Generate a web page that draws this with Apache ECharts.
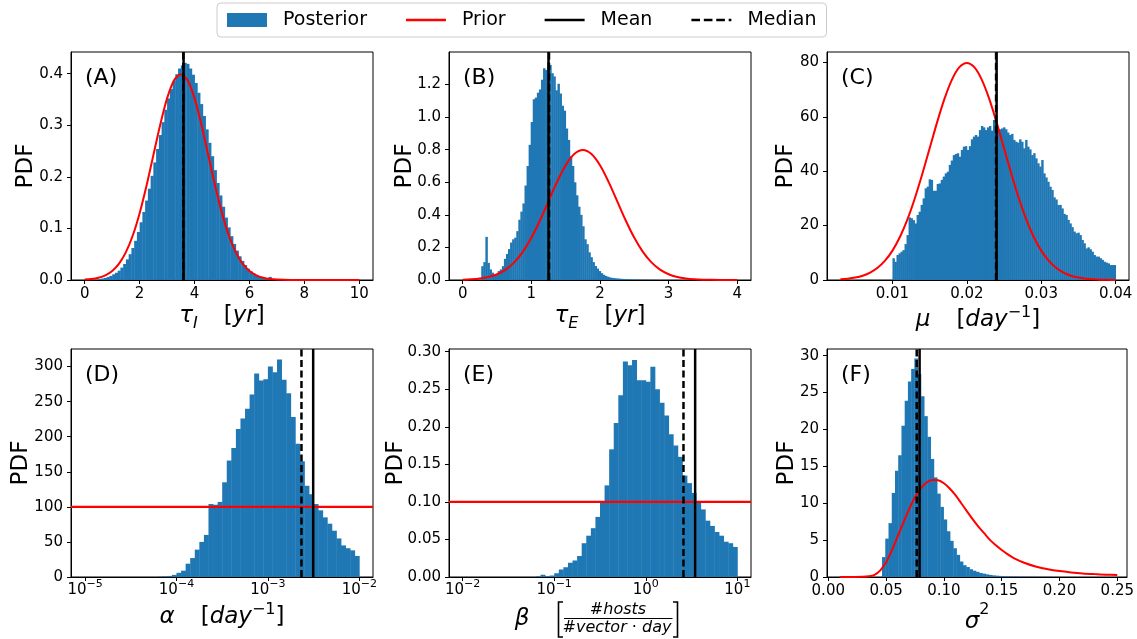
<!DOCTYPE html>
<html>
<head>
<meta charset="utf-8">
<script src="https://cdn.jsdelivr.net/npm/echarts@6/dist/echarts.min.js"></script>
<style>
  html, body { margin: 0; padding: 0; background: #fff; }
  #chart { width: 1137px; height: 639px; }
</style>
</head>
<body>
<div id="chart"></div>
<script>
// ---------------- data ----------------
// (A) tau_I : posterior histogram (bins of 0.1 starting at 0.5) and normal prior
const tauIBinStart = 0.5;
const tauIBinWidth = 0.1;
const tauIPosterior = [
  0.002, 0.003, 0.004, 0.006, 0.008, 0.011, 0.014, 0.018, 0.024, 0.031,
  0.040, 0.050, 0.062, 0.076, 0.093, 0.112, 0.132, 0.154, 0.177, 0.202,
  0.228, 0.254, 0.281, 0.306, 0.330, 0.352, 0.370, 0.386, 0.399, 0.410,
  0.416, 0.421, 0.419, 0.410, 0.398, 0.382, 0.363, 0.341, 0.318, 0.292,
  0.266, 0.240, 0.213, 0.188, 0.164, 0.142, 0.121, 0.102, 0.085, 0.070,
  0.057, 0.046, 0.037, 0.029, 0.022, 0.017, 0.013, 0.010, 0.007, 0.005,
  0.004, 0.003, 0.006, 0.002, 0.002, 0.001, 0.001, 0.001
];
const tauIPriorX = [0, 0.25, 0.5, 0.75, 1, 1.25, 1.5, 1.75, 2, 2.25, 2.5, 2.75, 3, 3.25, 3.5,
  3.75, 4, 4.25, 4.5, 4.75, 5, 5.25, 5.5, 5.75, 6, 6.25, 6.5, 6.75, 7, 7.5, 8, 9, 10];
const tauIPriorY = [0.0009, 0.0020, 0.0044, 0.0091, 0.0175, 0.0317, 0.0540, 0.0863, 0.1295, 0.1826,
  0.2420, 0.3011, 0.3521, 0.3867, 0.3989, 0.3867, 0.3521, 0.3011, 0.2420, 0.1826, 0.1295,
  0.0863, 0.0540, 0.0317, 0.0175, 0.0091, 0.0044, 0.0020, 0.0009, 0.0001, 0, 0, 0];
const tauIMean = 3.60, tauIMedian = 3.59;

// (B) tau_E
const tauEBinStart = 0.27;
const tauEBinWidth = 0.03;
const tauEPosterior = [
  0.085, 0.11, 0.265, 0.105, 0.065, 0.045, 0.03, 0.035, 0.055, 0.065,
  0.085, 0.13, 0.16, 0.19, 0.23, 0.25, 0.26, 0.30, 0.37, 0.42,
  0.47, 0.58, 0.70, 0.83, 0.97, 1.11, 1.12, 1.15, 1.17, 1.23,
  1.30, 1.29, 1.34, 1.32, 1.27, 1.25, 1.165, 1.205, 1.145, 1.07,
  1.04, 0.93, 0.86, 0.76, 0.70, 0.60, 0.52, 0.45, 0.40, 0.33,
  0.25, 0.22, 0.17, 0.14, 0.11, 0.086, 0.07, 0.055, 0.042, 0.032,
  0.025, 0.02, 0.016, 0.013, 0.012, 0.010, 0.009, 0.008, 0.007, 0.006,
  0.005, 0.004, 0.004, 0.003, 0.003, 0.003, 0.002, 0.002, 0.002, 0.002,
  0.002, 0.001, 0.001, 0.001, 0.001
];
const tauEPriorX = [0, 0.125, 0.25, 0.375, 0.5, 0.625, 0.75, 0.875, 1, 1.125, 1.25, 1.375, 1.5, 1.625,
  1.75, 1.875, 2, 2.125, 2.25, 2.375, 2.5, 2.625, 2.75, 2.875, 3, 3.125, 3.25, 3.375, 3.5, 3.75, 4];
const tauEPriorY = [0.0018, 0.0041, 0.0089, 0.0182, 0.0351, 0.0635, 0.1080, 0.1726, 0.2591, 0.3653,
  0.4839, 0.6023, 0.7041, 0.7733, 0.7979, 0.7733, 0.7041, 0.6023, 0.4839, 0.3653, 0.2591,
  0.1726, 0.1080, 0.0635, 0.0351, 0.0182, 0.0089, 0.0041, 0.0018, 0.0003, 0];
const tauEMean = 1.25, tauEMedian = 1.257;

// (C) mu : posterior restricted to [0.01, 0.04]
const muLo = 0.01, muHi = 0.04;
const muPosterior = [
  8.0, 6.7, 9.2, 9.8, 10.4, 11.0, 13.2, 16.5, 23.0, 22.7,
  22.0, 20.8, 23.9, 25.1, 27.6, 30.0, 33.7, 34.3, 37.0, 36.8,
  32.8, 32.8, 35.3, 35.5, 36.8, 38.0, 39.2, 39.8, 42.3, 43.9,
  45.9, 46.3, 46.6, 45.3, 47.8, 49.0, 49.2, 47.8, 49.2, 51.7,
  52.7, 53.3, 52.7, 55.1, 56.6, 56.1, 55.1, 56.1, 56.6, 54.9,
  58.8, 57.6, 54.9, 55.4, 55.7, 56.1, 55.4, 54.2, 53.3, 53.7,
  51.5, 50.8, 50.5, 51.7, 50.8, 48.4, 51.5, 49.0, 48.0, 45.9,
  46.6, 44.7, 42.9, 41.7, 44.1, 39.2, 37.7, 36.1, 34.3, 33.1,
  30.4, 29.6, 27.6, 27.6, 26.3, 24.3, 23.9, 22.1, 20.8, 19.4,
  17.8, 17.2, 17.4, 16.5, 14.7, 13.5, 11.6, 12.0, 11.3, 10.4,
  9.2, 8.6, 8.6, 8.0, 7.4, 6.7, 6.4, 6.1, 5.5, 5.5, 5.5
];
const muPriorX = [0.003, 0.004, 0.005, 0.006, 0.007, 0.008, 0.009, 0.010, 0.011, 0.012, 0.013,
  0.014, 0.015, 0.016, 0.017, 0.018, 0.019, 0.020, 0.021, 0.022, 0.023, 0.024, 0.025, 0.026,
  0.027, 0.028, 0.029, 0.030, 0.031, 0.032, 0.033, 0.034, 0.035, 0.036, 0.037, 0.038, 0.039, 0.040];
const muPriorY = [0.25, 0.48, 0.89, 1.58, 2.72, 4.48, 7.10, 10.80, 15.79, 22.18, 29.95,
  38.84, 48.39, 57.94, 66.65, 73.66, 78.21, 79.79, 78.21, 73.66, 66.65, 57.94, 48.39, 38.84,
  29.95, 22.18, 15.79, 10.80, 7.10, 4.48, 2.72, 1.58, 0.89, 0.48, 0.25, 0.12, 0.06, 0.03];
const muMean = 0.0240, muMedian = 0.02393;

// (D) alpha : log10-spaced bins from 10^-4.2 to 10^-2, flat prior at 100
const alphaLogLo = -4.2, alphaLogHi = -2.0;
const alphaPosterior = [
  0.5, 1, 1.5, 3, 6, 9, 19, 27, 39, 50,
  60, 104, 103, 107, 135, 166, 184, 211, 226, 240,
  260, 290, 280, 282, 300, 292, 310, 281, 262, 228,
  190, 165, 130, 118, 104, 95, 85, 76, 66, 55,
  45, 41, 38, 30
];
const alphaPrior = 100;
const alphaMean = 3.13e-3, alphaMedian = 2.33e-3;

// (E) beta : log10-spaced bins from 10^-1.2 to 10^1, flat prior at 0.1
const betaLogLo = -1.2, betaLogHi = 1.0;
const betaPosterior = [
  0.001, 0.003, 0.001, 0.002, 0.005, 0.010, 0.013, 0.019, 0.022, 0.028,
  0.045, 0.055, 0.065, 0.080, 0.100, 0.122, 0.170, 0.205, 0.242, 0.287,
  0.282, 0.289, 0.262, 0.262, 0.260, 0.280, 0.250, 0.232, 0.215, 0.190,
  0.175, 0.160, 0.135, 0.125, 0.112, 0.100, 0.090, 0.075, 0.068, 0.060,
  0.055, 0.047, 0.045, 0.040
];
const betaPrior = 0.1;
const betaMean = 3.46, betaMedian = 2.58;

// (F) sigma^2
const sigmaBinStart = 0.0465;
const sigmaBinWidth = 0.0028;
const sigmaPosterior = [
  2.7, 5.2, 7.3, 11.4, 14.4, 16.5, 20.5, 23.9, 26.5, 28.2,
  29.6, 27.5, 24.5, 21.8, 19.0, 16.0, 13.5, 11.3, 9.5, 7.8,
  6.2, 4.9, 3.9, 3.0, 2.1, 1.6, 1.35, 1.05, 0.85, 0.7,
  0.55, 0.45, 0.36, 0.28, 0.22, 0.18, 0.15, 0.12, 0.10, 0.08,
  0.07, 0.06, 0.05, 0.05, 0.04, 0.04, 0.03, 0.03, 0.03, 0.02,
  0.02, 0.02, 0.02, 0.01, 0.01
];
const sigmaPriorX = [0.010, 0.020, 0.030, 0.035, 0.040, 0.045, 0.050, 0.055, 0.060, 0.065, 0.070,
  0.075, 0.080, 0.085, 0.090, 0.095, 0.100, 0.105, 0.110, 0.115, 0.120, 0.125, 0.130, 0.135,
  0.140, 0.145, 0.150, 0.155, 0.160, 0.170, 0.180, 0.190, 0.200, 0.210, 0.220, 0.230, 0.240, 0.250];
const sigmaPriorY = [0.0, 0.0, 0.02, 0.1, 0.3, 0.9, 2.0, 3.6, 5.5, 7.4, 9.2,
  10.8, 12.0, 12.8, 13.15, 13.1, 12.7, 12.0, 11.1, 10.0, 8.9, 7.8, 6.8, 5.9,
  5.0, 4.3, 3.65, 3.1, 2.6, 1.9, 1.4, 1.05, 0.8, 0.62, 0.48, 0.39, 0.32, 0.27];
const sigmaMean = 0.0790, sigmaMedian = 0.0765;

// tick values and panel tags
const ticksAx = [0, 2, 4, 6, 8, 10];
const ticksAy = [0, 0.1, 0.2, 0.3, 0.4];
const ticksBx = [0, 1, 2, 3, 4];
const ticksBy = [0, 0.2, 0.4, 0.6, 0.8, 1.0, 1.2];
const ticksCx = [0.01, 0.02, 0.03, 0.04];
const ticksCy = [0, 20, 40, 60, 80];
const ticksDx = [-5, -4, -3, -2];
const ticksDy = [0, 50, 100, 150, 200, 250, 300];
const ticksEx = [-2, -1, 0, 1];
const ticksEy = [0, 0.05, 0.10, 0.15, 0.20, 0.25, 0.30];
const ticksFx = [0, 0.05, 0.10, 0.15, 0.20, 0.25];
const ticksFy = [0, 5, 10, 15, 20, 25, 30];
const panelTags = ['(A)', '(B)', '(C)', '(D)', '(E)', '(F)'];
const legendNames = ['Posterior', 'Prior', 'Mean', 'Median'];

// ---------------- styling / layout ----------------
const FONT = "'DejaVu Sans', sans-serif";
const BLUE = '#1f77b4';
const RED = '#ff0000';
const INK = '#000000';
const TICK_FONT = 15;

const grids = [
  { left: 71,  top: 52,  width: 302, height: 228 },
  { left: 449, top: 52,  width: 302, height: 228 },
  { left: 827, top: 52,  width: 302, height: 228 },
  { left: 71,  top: 349, width: 302, height: 228 },
  { left: 449, top: 349, width: 302, height: 228 },
  { left: 827, top: 349, width: 302, height: 228 }
];

// legend glyphs: a solid stroke and a dashed stroke, both about 40 px long
const solidIcon = 'path://M0,0h40v2.5h-40z';
const dashedIcon = 'path://M0,0h8v2.5h-8z M11.5,0h8v2.5h-8z M23,0h8v2.5h-8z M34.5,0h2.5v2.5h-2.5z';

// helpers to turn height lists into [x0, x1, h] bins
function binsByWidth(start, width, heights) {
  return heights.map((h, i) => [start + i * width, start + (i + 1) * width, h]);
}
function binsByRange(lo, hi, heights) {
  const w = (hi - lo) / heights.length;
  return heights.map((h, i) => [lo + i * w, lo + (i + 1) * w, h]);
}
function pairs(xs, ys) { return xs.map((x, i) => [x, ys[i]]); }

const supDigits = v => (v < 0 ? '\u2212' + (-v) : String(v));

// axis math labels (rich text)
const mathRich = {
  g:   { fontSize: 23, fontFamily: FONT, fontStyle: 'italic', lineHeight: 30, color: INK },
  t:   { fontSize: 23, fontFamily: FONT, lineHeight: 30, color: INK },
  sub: { fontSize: 16, fontFamily: FONT, fontStyle: 'italic', lineHeight: 16, verticalAlign: 'bottom', color: INK },
  sup: { fontSize: 16, fontFamily: FONT, lineHeight: 18, verticalAlign: 'top', color: INK },
  sp:  { width: 26, lineHeight: 30 },
  gg:  { fontSize: 23, fontFamily: FONT, fontStyle: 'italic', lineHeight: 40, color: INK },
  ss:  { fontSize: 16, fontFamily: FONT, lineHeight: 14, verticalAlign: 'top', color: INK }
};

const panels = [
  { xMin: -0.5, xMax: 10.5, yMax: 0.442, xTicks: ticksAx, yTicks: ticksAy,
    xFmt: v => v.toFixed(0), yFmt: v => v.toFixed(1),
    xName: '{g|\u03c4}{sub|I}{sp| }{t|[}{g|yr}{t|]}', xGap: 17, yGap: 32 },
  { xMin: -0.2, xMax: 4.2, yMax: 1.40, xTicks: ticksBx, yTicks: ticksBy,
    xFmt: v => v.toFixed(0), yFmt: v => v.toFixed(1),
    xName: '{g|\u03c4}{sub|E}{sp| }{t|[}{g|yr}{t|]}', xGap: 17, yGap: 31 },
  { xMin: 0.0012, xMax: 0.0418, yMax: 83.8, xTicks: ticksCx, yTicks: ticksCy,
    xFmt: v => v.toFixed(2), yFmt: v => v.toFixed(0),
    xName: '{g|\u03bc}{sp| }{t|[}{g|day}{sup|\u22121}{t|]}', xGap: 19, yGap: 28 },
  { xMin: -5.154, xMax: -1.85, yMax: 325, xTicks: ticksDx, yTicks: ticksDy, log: true,
    xFmt: v => '{b|10}{s|' + supDigits(v) + '}', yFmt: v => v.toFixed(0),
    xName: '{g|\u03b1}{sp| }{t|[}{g|day}{sup|\u22121}{t|]}', xGap: 22, yGap: 37 },
  { xMin: -2.149, xMax: 1.149, yMax: 0.3036, xTicks: ticksEx, yTicks: ticksEy, log: true,
    xFmt: v => '{b|10}{s|' + supDigits(v) + '}', yFmt: v => v.toFixed(2),
    xName: '', xGap: 20, yGap: 40 },
  { xMin: -0.0011, xMax: 0.2584, yMax: 30.9, xTicks: ticksFx, yTicks: ticksFy,
    xFmt: v => v.toFixed(2), yFmt: v => v.toFixed(0),
    xName: '{gg|\u03c3}{ss|2}', xGap: 9, yGap: 27 }
];

const posteriorBins = [
  binsByWidth(tauIBinStart, tauIBinWidth, tauIPosterior),
  binsByWidth(tauEBinStart, tauEBinWidth, tauEPosterior),
  binsByRange(muLo, muHi, muPosterior),
  binsByRange(alphaLogLo, alphaLogHi, alphaPosterior),
  binsByRange(betaLogLo, betaLogHi, betaPosterior),
  binsByWidth(sigmaBinStart, sigmaBinWidth, sigmaPosterior)
];
const priorLines = [
  pairs(tauIPriorX, tauIPriorY),
  pairs(tauEPriorX, tauEPriorY),
  pairs(muPriorX, muPriorY),
  [[panels[3].xMin, alphaPrior], [panels[3].xMax, alphaPrior]],
  [[panels[4].xMin, betaPrior], [panels[4].xMax, betaPrior]],
  pairs(sigmaPriorX, sigmaPriorY)
];
const means = [tauIMean, tauEMean, muMean, Math.log10(alphaMean), Math.log10(betaMean), sigmaMean];
const medians = [tauIMedian, tauEMedian, muMedian, Math.log10(alphaMedian), Math.log10(betaMedian), sigmaMedian];

// ---------------- option ----------------
const xAxes = [], yAxes = [], series = [], titles = [];

panels.forEach((p, i) => {
  xAxes.push({
    type: 'value', gridIndex: i, min: p.xMin, max: p.xMax,
    axisLine: { show: true, onZero: false, lineStyle: { color: INK, width: 1 } },
    axisTick: { show: true, customValues: p.xTicks, length: 4, lineStyle: { color: INK, width: 1 } },
    axisLabel: {
      customValues: p.xTicks, formatter: p.xFmt, margin: p.log ? 2 : 4,
      fontSize: TICK_FONT, fontFamily: FONT, color: INK, lineHeight: 20,
      rich: {
        b: { fontSize: TICK_FONT, fontFamily: FONT, color: INK, lineHeight: 22 },
        s: { fontSize: 11, fontFamily: FONT, color: INK, lineHeight: 10, verticalAlign: 'top' }
      }
    },
    splitLine: { show: false },
    name: p.xName, nameLocation: 'middle', nameGap: p.xGap,
    nameTextStyle: { rich: mathRich, fontSize: 23, fontFamily: FONT, color: INK, verticalAlign: 'top' }
  });
  yAxes.push({
    type: 'value', gridIndex: i, min: 0, max: p.yMax,
    axisLine: { show: true, onZero: false, lineStyle: { color: INK, width: 1 } },
    axisTick: { show: true, customValues: p.yTicks, length: 4, lineStyle: { color: INK, width: 1 } },
    axisLabel: { customValues: p.yTicks, formatter: p.yFmt, margin: 8, fontSize: TICK_FONT, fontFamily: FONT, color: INK },
    splitLine: { show: false },
    name: 'PDF', nameLocation: 'middle', nameRotate: 90, nameGap: p.yGap, nameMoveOverlap: false,
    nameTextStyle: { fontSize: 23, fontFamily: FONT, color: INK, lineHeight: 26 }
  });

  series.push({
    type: 'custom', name: 'Posterior', xAxisIndex: i, yAxisIndex: i,
    data: posteriorBins[i], encode: { x: [0, 1], y: 2 }, clip: true, z: 1,
    itemStyle: { color: BLUE },
    renderItem: function (params, api) {
      const top = api.coord([api.value(0), api.value(2)]);
      const base = api.coord([api.value(1), 0]);
      return {
        type: 'rect',
        shape: { x: top[0], y: top[1], width: base[0] - top[0] + 0.4, height: base[1] - top[1] },
        style: { fill: BLUE }
      };
    }
  });
  series.push({
    type: 'line', name: 'Prior', xAxisIndex: i, yAxisIndex: i,
    data: priorLines[i], smooth: p.log ? false : 0.3, symbol: 'none', z: 3,
    lineStyle: { color: RED, width: p.log ? 2.2 : 2 }, itemStyle: { color: RED }
  });
  series.push({
    type: 'line', name: 'Mean', xAxisIndex: i, yAxisIndex: i,
    data: [[means[i], 0], [means[i], p.yMax]], symbol: 'none', z: 4,
    lineStyle: { color: INK, width: 2.5 }, itemStyle: { color: INK }
  });
  series.push({
    type: 'line', name: 'Median', xAxisIndex: i, yAxisIndex: i,
    data: [[medians[i], 0], [medians[i], p.yMax]], symbol: 'none', z: 5,
    lineStyle: { color: INK, width: 2.5, type: [7, 3.5] }, itemStyle: { color: INK }
  });

  titles.push({
    text: panelTags[i], left: grids[i].left + 14, top: grids[i].top + 13, padding: 0,
    textStyle: { fontSize: 22, fontWeight: 'normal', fontFamily: FONT, color: INK, lineHeight: 26 }
  });
});

// beta unit: [ #hosts / (#vector . day) ] drawn as a stacked fraction under panel E
const gE = grids[4];
const cE = gE.left + gE.width / 2;
const bE = gE.top + gE.height;
const betaLabel = {
  type: 'group',
  children: [
    { type: 'text', x: cE - 78, y: bE + 42,
      style: { text: '\u03b2', fontSize: 23, fontFamily: FONT, fontStyle: 'italic', fill: INK,
               align: 'center', verticalAlign: 'middle' } },
    { type: 'polyline', shape: { points: [[cE - 37, bE + 25], [cE - 41.5, bE + 25], [cE - 41.5, bE + 60], [cE - 37, bE + 60]] },
      style: { stroke: INK, lineWidth: 1.6, fill: null } },
    { type: 'polyline', shape: { points: [[cE + 73, bE + 25], [cE + 77.5, bE + 25], [cE + 77.5, bE + 60], [cE + 73, bE + 60]] },
      style: { stroke: INK, lineWidth: 1.6, fill: null } },
    { type: 'line', shape: { x1: cE - 36, y1: bE + 41.5, x2: cE + 72.5, y2: bE + 41.5 },
      style: { stroke: INK, lineWidth: 1.1 } },
    { type: 'text', x: cE + 18, y: bE + 33,
      style: { text: '#hosts', fontSize: 16, fontFamily: FONT, fontStyle: 'italic', fill: INK,
               align: 'center', verticalAlign: 'middle' } },
    { type: 'text', x: cE + 17, y: bE + 51,
      style: { text: '{i|#vector}{c| \u00b7 }{i|day}', fill: INK,
               align: 'center', verticalAlign: 'middle',
               rich: {
                 i: { fontSize: 16, fontFamily: FONT, fontStyle: 'italic', fill: INK },
                 c: { fontSize: 16, fontFamily: FONT, fill: INK }
               } } }
  ]
};

const option = {
  animation: false,
  backgroundColor: '#ffffff',
  textStyle: { fontFamily: FONT },
  title: titles,
  grid: grids.map(g => Object.assign({ show: true, borderColor: INK, borderWidth: 1, backgroundColor: 'transparent' }, g)),
  xAxis: xAxes,
  yAxis: yAxes,
  legend: {
    data: [
      { name: legendNames[0], icon: 'rect' },
      { name: legendNames[1], icon: solidIcon },
      { name: legendNames[2], icon: solidIcon },
      { name: legendNames[3], icon: dashedIcon }
    ],
    symbolKeepAspect: true,
    left: 217, top: 3, orient: 'horizontal',
    padding: [6, 10, 6, 10], itemGap: 39, itemWidth: 40, itemHeight: 14,
    borderColor: '#cccccc', borderWidth: 1, borderRadius: 4, backgroundColor: '#ffffff',
    textStyle: { fontSize: 19, fontFamily: FONT, color: INK, padding: [0, 0, 0, 11], lineHeight: 22 },
    selectedMode: false
  },
  graphic: [betaLabel],
  series: series
};

const chart = echarts.init(document.getElementById('chart'), null, { renderer: 'canvas' });
chart.setOption(option);
</script>
</body>
</html>
